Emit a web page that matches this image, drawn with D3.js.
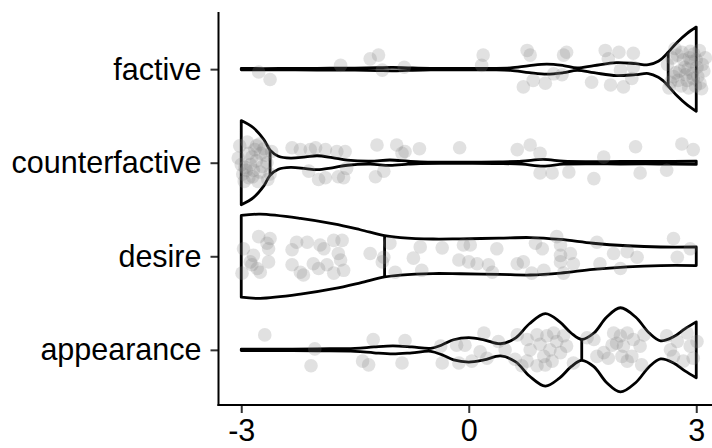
<!DOCTYPE html>
<html>
<head>
<meta charset="utf-8">
<script src="https://cdn.jsdelivr.net/npm/d3@7"></script>
<style>
  body { margin: 0; background: #fff; }
  text { font-family: "Liberation Sans", Arial, sans-serif; }
</style>
</head>
<body>
<svg id="chart"></svg>
<script>
// categories top to bottom
const categories = ["factive", "counterfactive", "desire", "appearance"];
const xTicks = [-3, 0, 3];
const medians = [2.63, -2.62, -1.11, 1.49];

// violin outlines: rating value -> relative half width (1 = widest)
const factiveDensX = [-3, -2.5, -2, -1.5, -1.2, -1, -0.8, -0.5, 0, 0.3, 0.55, 0.8, 1.03, 1.25, 1.43, 1.65, 1.95, 2.2, 2.37, 2.5, 2.56, 2.63, 2.75, 2.88, 3];
const factiveDensW = [0.015, 0.015, 0.02, 0.025, 0.035, 0.04, 0.03, 0.018, 0.015, 0.018, 0.03, 0.085, 0.12, 0.085, 0.03, 0.085, 0.155, 0.13, 0.105, 0.19, 0.27, 0.40, 0.64, 0.85, 1.0];

const counterDensX = [-3, -2.84, -2.7, -2.62, -2.51, -2.35, -2.15, -2.0, -1.8, -1.6, -1.3, -1.04, -0.8, -0.64, -0.3, 0, 0.4, 0.7, 0.98, 1.25, 1.6, 2.0, 2.5, 3];
const counterDensW = [1.0, 0.83, 0.545, 0.30, 0.155, 0.11, 0.14, 0.165, 0.12, 0.06, 0.035, 0.065, 0.035, 0.02, 0.015, 0.015, 0.02, 0.035, 0.08, 0.035, 0.025, 0.03, 0.03, 0.04];

const desireDensX = [-3, -2.75, -2.22, -1.78, -1.43, -1.11, -0.9, -0.47, -0.11, 0.4, 0.81, 1.21, 1.64, 2.09, 2.53, 3];
const desireDensW = [0.97, 1.0, 0.90, 0.77, 0.63, 0.49, 0.445, 0.41, 0.415, 0.43, 0.445, 0.40, 0.31, 0.25, 0.22, 0.22];

const appearDensX = [-3, -2.5, -2.0, -1.5, -1.25, -1.0, -0.75, -0.5, -0.35, -0.2, 0, 0.2, 0.42, 0.62, 0.8, 1.01, 1.2, 1.35, 1.49, 1.65, 1.82, 2.0, 2.2, 2.38, 2.53, 2.7, 2.85, 3];
const appearDensW = [0.015, 0.017, 0.025, 0.035, 0.07, 0.095, 0.07, 0.035, 0.12, 0.24, 0.29, 0.24, 0.145, 0.285, 0.62, 0.86, 0.665, 0.40, 0.25, 0.40, 0.78, 1.0, 0.78, 0.40, 0.215, 0.31, 0.50, 0.665];

// jittered responses: [rating, vertical jitter in category steps]
const factivePoints = [
  [-2.77, 0.03], [-2.62, 0.11], [-1.69, -0.04], [-1.30, -0.11], [-1.19, -0.15], [-1.14, 0.01], [-0.85, -0.02],
  [0.19, -0.15], [0.17, -0.04], [0.77, -0.20], [0.81, -0.15], [0.85, 0.12], [0.72, 0.19], [1.01, 0.15],
  [1.12, 0.05], [1.23, 0.06], [1.29, -0.18], [1.25, -0.15], [1.62, 0.14], [1.80, -0.20], [1.84, -0.11],
  [1.87, 0.17], [1.98, -0.18], [2.04, 0.19], [2.17, -0.17], [2.15, 0.10], [2.17, -0.02], [2.00, 0.01],
  [2.62, -0.05], [2.70, 0.08], [2.75, -0.15], [2.80, 0.18], [2.85, -0.02], [2.88, 0.12], [2.92, -0.19],
  [2.95, 0.05], [3.00, -0.10], [3.05, 0.15], [3.08, -0.05], [2.72, -0.22], [2.78, 0.02], [2.83, -0.10],
  [2.90, 0.20], [2.97, -0.16], [3.02, 0.08], [3.10, 0.02], [2.66, 0.14], [2.68, -0.12], [2.86, 0.06],
  [2.93, -0.08], [2.99, 0.18], [3.04, -0.20], [3.12, -0.12], [2.76, 0.12], [2.81, -0.18], [2.89, 0.00],
  [2.96, 0.10], [3.01, -0.02], [2.64, 0.20], [3.07, 0.21], [2.73, 0.04], [2.91, -0.12]
];
const counterPoints = [
  [-3.02, -0.18], [-2.95, 0.05], [-2.90, -0.10], [-2.85, 0.15], [-2.80, -0.02], [-2.75, 0.10], [-2.70, -0.15],
  [-2.65, 0.18], [-2.98, 0.12], [-2.92, -0.22], [-2.88, 0.02], [-2.82, -0.14], [-2.78, 0.20], [-2.72, 0.04],
  [-2.68, -0.08], [-3.04, -0.05], [-2.96, 0.20], [-2.86, -0.06], [-2.76, -0.20], [-2.62, 0.12], [-2.60, -0.12],
  [-2.93, 0.08], [-2.84, 0.08], [-2.74, -0.10], [-3.00, 0.02], [-2.90, 0.16], [-2.80, -0.18], [-2.66, 0.00],
  [-2.33, -0.16], [-2.22, -0.14], [-2.09, -0.14], [-2.02, -0.16], [-1.89, -0.14], [-1.74, -0.12], [-1.63, -0.12],
  [-2.11, 0.09], [-1.98, 0.18], [-1.89, 0.16], [-1.72, 0.15], [-1.65, 0.16], [-1.61, 0.06], [-1.21, -0.19],
  [-1.12, 0.09], [-1.23, 0.15], [-0.95, -0.19], [-0.88, -0.10], [-0.84, -0.12], [-0.65, -0.15], [-0.12, -0.16],
  [0.64, -0.14], [0.81, -0.19], [0.94, -0.10], [0.94, 0.11], [1.10, 0.11], [1.32, 0.10], [1.65, 0.17],
  [1.78, -0.06], [2.20, -0.17], [2.26, 0.11], [2.61, 0.08], [2.81, -0.20], [2.96, -0.14]
];
const desirePoints = [
  [-2.97, -0.08], [-2.99, 0.18], [-2.88, 0.06], [-2.84, -0.01], [-2.77, -0.21], [-2.66, -0.14], [-2.62, -0.19],
  [-2.64, -0.08], [-2.79, 0.13], [-2.75, 0.17], [-2.64, 0.06], [-2.86, 0.09], [-2.27, -0.15], [-2.33, -0.07],
  [-2.13, -0.15], [-1.96, -0.12], [-1.91, -0.08], [-1.78, -0.17], [-1.67, -0.17], [-1.72, -0.03], [-1.69, 0.04],
  [-2.33, 0.09], [-2.22, 0.17], [-2.18, 0.20], [-2.05, 0.08], [-1.98, 0.13], [-1.87, 0.09], [-1.78, 0.18],
  [-1.65, 0.15], [-1.30, -0.03], [-1.12, 0.01], [-1.04, -0.14], [-1.14, 0.06], [-0.97, 0.17], [-0.73, 0.02],
  [-0.64, -0.10], [-0.62, 0.15], [-0.35, -0.09], [-0.13, 0.04], [-0.07, -0.12], [0.02, -0.12], [0.00, 0.06],
  [0.11, 0.08], [0.26, 0.09], [0.31, 0.17], [0.37, -0.08], [0.64, 0.08], [0.72, 0.06], [0.83, 0.18],
  [0.88, -0.14], [0.97, -0.08], [0.99, 0.15], [1.16, -0.21], [1.21, -0.12], [1.21, -0.01], [1.21, 0.06],
  [1.25, 0.18], [1.34, -0.03], [1.38, 0.08], [1.69, -0.15], [1.73, 0.08], [1.91, -0.03], [2.00, 0.13],
  [2.09, -0.05], [2.22, 0.01], [2.70, -0.19], [2.75, 0.01], [2.92, -0.08]
];
const appearPoints = [
  [-2.69, -0.16], [-2.03, -0.01], [-2.08, 0.17], [-1.26, -0.11], [-1.40, 0.12], [-1.32, 0.16], [-0.84, -0.10],
  [-0.88, 0.14], [-0.37, -0.04], [-0.35, 0.14], [-0.13, 0.14], [-0.16, -0.05], [-0.05, -0.05], [0.20, -0.18],
  [0.15, 0.02], [0.24, 0.09], [0.04, 0.12], [0.39, -0.09], [0.48, 0.00], [0.64, -0.16], [0.61, 0.10],
  [0.70, 0.17], [0.77, -0.11], [0.81, 0.00], [0.90, -0.16], [0.94, -0.06], [0.99, 0.07], [1.03, -0.15],
  [1.07, 0.00], [1.12, -0.18], [1.16, -0.09], [1.10, 0.12], [1.21, 0.03], [1.25, -0.15], [1.29, -0.04],
  [0.90, 0.17], [1.38, 0.14], [0.77, 0.12], [1.01, 0.16], [1.56, -0.13], [1.65, -0.11], [1.69, 0.07],
  [1.78, 0.03], [1.91, -0.18], [1.95, -0.07], [2.00, -0.15], [2.04, -0.04], [2.09, -0.18], [2.02, 0.07],
  [2.09, 0.12], [2.15, 0.07], [2.17, -0.11], [2.26, -0.04], [2.28, 0.16], [1.84, 0.09], [1.89, -0.05],
  [2.31, -0.16], [2.61, -0.15], [2.66, 0.00], [2.75, -0.09], [2.88, -0.18], [2.92, -0.04], [2.96, 0.09],
  [2.83, 0.12], [3.01, -0.09], [2.70, 0.07]
];

const violins = [
  { name: "factive", xs: factiveDensX, ws: factiveDensW, pts: factivePoints, med: medians[0] },
  { name: "counterfactive", xs: counterDensX, ws: counterDensW, pts: counterPoints, med: medians[1] },
  { name: "desire", xs: desireDensX, ws: desireDensW, pts: desirePoints, med: medians[2] },
  { name: "appearance", xs: appearDensX, ws: appearDensW, pts: appearPoints, med: medians[3] }
];

const width = 712, height = 448;
const left = 218.5, bottom = 405;

const svg = d3.select("#chart").attr("width", width).attr("height", height);

const xScale = d3.scaleLinear().domain([-3.3, 3.3]).range([left, 719]);
const yScale = d3.scalePoint().domain(categories).range([13, 406]).padding(0.6);
const halfMax = yScale.step() * 0.45;

const plot = svg.append("g");

// violins
violins.forEach(v => {
  const cy = yScale(v.name);
  const rows = v.xs.map((x, i) => ({ x: x, w: v.ws[i] }));
  const area = d3.area()
      .x(d => xScale(d.x))
      .y0(d => cy - d.w * halfMax)
      .y1(d => cy + d.w * halfMax)
      .curve(d3.curveCatmullRom);
  plot.append("path")
      .datum(rows)
      .attr("d", area)
      .attr("fill", "none")
      .attr("stroke", "#000")
      .attr("stroke-width", 2.8)
      .attr("stroke-linejoin", "round");

  // median line
  const mi = v.xs.indexOf(v.med);
  const mw = v.ws[mi] * halfMax;
  plot.append("line")
      .attr("x1", xScale(v.med)).attr("x2", xScale(v.med))
      .attr("y1", cy - mw).attr("y2", cy + mw)
      .attr("stroke", "#000")
      .attr("stroke-width", 2.8);
});

// jittered points
violins.forEach(v => {
  const cy = yScale(v.name);
  plot.append("g").selectAll("circle")
    .data(v.pts)
    .join("circle")
      .attr("cx", d => xScale(d[0]))
      .attr("cy", d => cy + d[1] * yScale.step())
      .attr("r", 6.8)
      .attr("fill", "#808080")
      .attr("fill-opacity", 0.24);
});

// axes
const xAxis = d3.axisBottom(xScale).tickValues(xTicks).tickFormat(d => String(d))
    .tickSize(8).tickPadding(6).tickSizeOuter(0);
const yAxis = d3.axisLeft(yScale).tickSize(8).tickPadding(9).tickSizeOuter(0);

const xAxisG = svg.append("g").attr("transform", `translate(0,${bottom})`).call(xAxis);
const yAxisG = svg.append("g").attr("transform", `translate(${left},0)`).call(yAxis);

[xAxisG, yAxisG].forEach(g => {
  g.select(".domain").remove();
  g.selectAll(".tick line").attr("stroke", "#333").attr("stroke-width", 2);
  g.selectAll(".tick text").attr("fill", "#000").attr("font-size", 30.5)
    .attr("font-family", "'Liberation Sans', Arial, sans-serif");
});
yAxisG.selectAll(".tick text").attr("dy", "0.33em");

svg.append("line")
    .attr("x1", left).attr("x2", left)
    .attr("y1", 12).attr("y2", bottom + 1)
    .attr("stroke", "#000").attr("stroke-width", 2);
svg.append("line")
    .attr("x1", left - 1).attr("x2", width)
    .attr("y1", bottom).attr("y2", bottom)
    .attr("stroke", "#000").attr("stroke-width", 2);
</script>
</body>
</html>
